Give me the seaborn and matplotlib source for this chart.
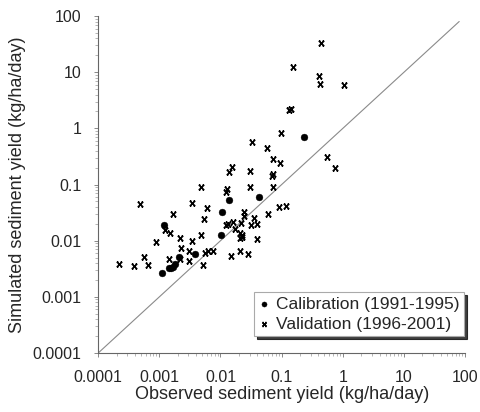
import numpy as np
import pandas as pd
import matplotlib
matplotlib.use("Agg")
import matplotlib.pyplot as plt
import seaborn as sns
from matplotlib.path import Path
from matplotlib.ticker import FixedLocator, FixedFormatter, LogLocator, NullFormatter

# ---- data ----
cal_obs = [0.23, 0.0136, 0.042, 0.0104, 0.0012, 0.0102, 0.0039, 0.0021,
           0.0018, 0.00144, 0.00155, 0.00165, 0.0011]
cal_sim = [0.71, 0.053, 0.061, 0.033, 0.019, 0.0127, 0.0058, 0.0052,
           0.0039, 0.0033, 0.0033, 0.0034, 0.0027]

val_obs = [0.437, 0.155, 0.404, 0.424, 1.04, 0.131, 0.141, 0.0977, 0.0328, 0.0577,
           0.0731, 0.0942, 0.553, 0.740, 0.0152, 0.0136, 0.0308, 0.0731, 0.0697,
           0.0048, 0.0126, 0.0122, 0.0308, 0.0714, 0.0898, 0.117, 0.000477,
           0.00345, 0.00594, 0.00167, 0.00537, 0.0240, 0.0245, 0.0353, 0.0593,
           0.00125, 0.00149, 0.0123, 0.0131, 0.0162, 0.0217, 0.0171, 0.0312,
           0.0391, 0.00089, 0.00220, 0.00338, 0.00474, 0.0211, 0.0222, 0.0211,
           0.0229, 0.0391, 0.00226, 0.00302, 0.00551, 0.00637, 0.00767, 0.0151,
           0.0206, 0.0279, 0.00056, 0.00220, 0.00146, 0.00305, 0.000221,
           0.000387, 0.000646, 0.00521]
val_sim = [33.5, 12.2, 8.45, 6.17, 6.0, 2.12, 2.21, 0.818, 0.580, 0.454,
           0.282, 0.242, 0.313, 0.200, 0.208, 0.170, 0.175, 0.154, 0.144,
           0.0918, 0.0845, 0.0738, 0.0918, 0.0895, 0.0404, 0.0416, 0.0457,
           0.0476, 0.0379, 0.0296, 0.0244, 0.0321, 0.0276, 0.0258, 0.0300,
           0.0156, 0.0139, 0.0194, 0.0199, 0.0213, 0.0210, 0.0160, 0.0189,
           0.0197, 0.00965, 0.0114, 0.0101, 0.0125, 0.0136, 0.0125, 0.0112,
           0.0119, 0.0108, 0.00754, 0.00659, 0.00607, 0.00659, 0.00667, 0.00543,
           0.00667, 0.00590, 0.00521, 0.00471, 0.00479, 0.00437, 0.00386,
           0.00356, 0.00363, 0.00371]

one_to_one = [0.0001, 80]
tick_values = [0.0001, 0.001, 0.01, 0.1, 1, 10, 100]
tick_labels = ["0.0001", "0.001", "0.01", "0.1", "1", "10", "100"]

cal_label = "Calibration (1991-1995)"
val_label = "Validation (1996-2001)"
x_label = "Observed sediment yield (kg/ha/day)"
y_label = "Simulated sediment yield (kg/ha/day)"

# ---- style ----
sns.set_style("ticks")
plt.rcParams["font.family"] = ["Liberation Sans", "DejaVu Sans"]

fig = plt.figure(figsize=(4.81, 4.12), dpi=100)
ax = fig.add_axes([0.204, 0.143, 0.763, 0.818])

cal_df = pd.DataFrame({"obs": cal_obs, "sim": cal_sim})
val_df = pd.DataFrame({"obs": val_obs, "sim": val_sim})

# x marker with small caps
M, L = Path.MOVETO, Path.LINETO
vmark = Path([(-1, -1), (1, 1), (-1, 1), (1, -1),
              (-1, 1), (-0.45, 1), (0.45, 1), (1, 1),
              (-1, -1), (-0.45, -1), (0.45, -1), (1, -1)],
             [M, L, M, L, M, L, M, L, M, L, M, L])

ax.plot(one_to_one, one_to_one, color="#8a8a8a", lw=0.8, zorder=1)

sns.scatterplot(data=cal_df, x="obs", y="sim", ax=ax, marker="o", s=24,
                color="black", edgecolor="black", linewidth=0.3,
                label=cal_label, zorder=3)
sns.scatterplot(data=val_df, x="obs", y="sim", ax=ax, marker=vmark, s=14,
                color="black", edgecolor="black", linewidth=1.2,
                label=val_label, zorder=3)

ax.set_xscale("log")
ax.set_yscale("log")
ax.set_xlim(tick_values[0], tick_values[-1])
ax.set_ylim(tick_values[0], tick_values[-1])

for axis in (ax.xaxis, ax.yaxis):
    axis.set_major_locator(FixedLocator(tick_values))
    axis.set_major_formatter(FixedFormatter(tick_labels))
    axis.set_minor_locator(LogLocator(base=10, subs=np.arange(2, 10), numticks=20))
    axis.set_minor_formatter(NullFormatter())

sns.despine(ax=ax)
for sp in ("left", "bottom"):
    ax.spines[sp].set_color("#666666")
    ax.spines[sp].set_linewidth(0.8)

ax.tick_params(which="major", direction="out", length=3, width=0.7,
               color="#888888", labelsize=11.5, pad=9)
ax.tick_params(which="minor", direction="out", length=2, width=0.5,
               color="#999999")

ax.set_xlabel(x_label, fontsize=13, labelpad=1)
ax.set_ylabel(y_label, fontsize=13, labelpad=5)

leg = ax.legend(loc="lower right", bbox_to_anchor=(0.997, 0.05), frameon=True,
                fancybox=False, shadow={"color": "black", "alpha": 0.75},
                fontsize=12.5, handlelength=0.6,
                handletextpad=0.4, borderpad=0.25, labelspacing=0.3,
                borderaxespad=0, markerscale=0.75)
leg.get_frame().set_edgecolor("#aaaaaa")
leg.get_frame().set_linewidth(0.8)

fig.savefig("out.png", dpi=100)
